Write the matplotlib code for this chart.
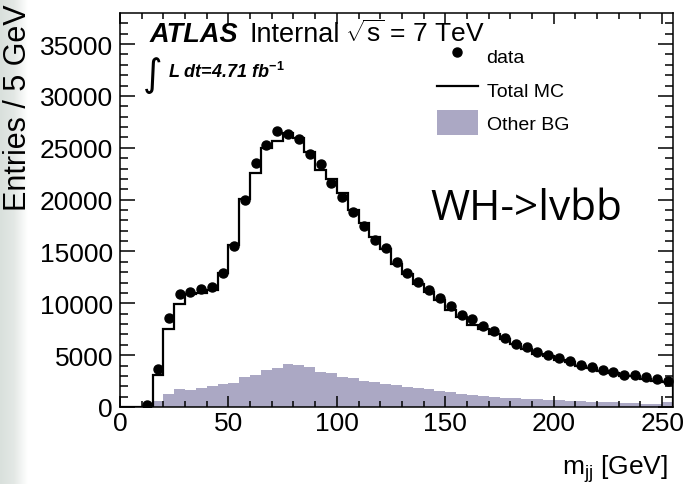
import numpy as np
import matplotlib
matplotlib.use("Agg")
from matplotlib import pyplot as plt
from matplotlib.lines import Line2D
from matplotlib.patches import Patch

plt.rcParams['font.family'] = ['Liberation Sans', 'DejaVu Sans']
plt.rcParams['mathtext.fontset'] = 'custom'
plt.rcParams['mathtext.rm'] = 'Liberation Sans'
plt.rcParams['mathtext.it'] = 'Liberation Sans:italic'
plt.rcParams['mathtext.bf'] = 'Liberation Sans:bold'

# 5 GeV bins, 10 -> 255 GeV
bin_edges = np.arange(10, 260, 5)
bin_centers = bin_edges[:-1] + 2.5

data_counts = [220, 3700, 8600, 10900, 11100, 11400, 11600, 12900, 15500, 20000,
               23500, 25300, 26600, 26300, 25850, 24400, 23450, 21650, 20250, 18800,
               17450, 16150, 15350, 14000, 12950, 12060, 11250, 10510, 9740, 8830,
               8440, 7800, 7320, 6670, 6090, 5770, 5350, 5060, 4740, 4420,
               4090, 3870, 3550, 3420, 3120, 3090, 2870, 2710, 2490]

total_mc = [0, 3100, 7550, 9950, 10900, 11000, 11300, 12950, 15600, 20100,
            22600, 25000, 25700, 26450, 25950, 24600, 22850, 21950, 20600, 18990,
            17700, 16400, 15280, 13830, 12800, 11900, 11090, 10280, 9310, 8670,
            7930, 7540, 7060, 6580, 6030, 5610, 5130, 4900, 4580, 4320,
            3940, 3740, 3510, 3290, 3030, 2970, 2710, 2540, 2390]

other_bg = [0, 580, 1260, 1740, 1680, 1800, 2000, 2250, 2350, 2870,
            3090, 3600, 3770, 4130, 4060, 3840, 3420, 3260, 2870, 2770,
            2480, 2390, 2220, 2080, 1950, 1800, 1700, 1500, 1400, 1250,
            1150, 1050, 1000, 900, 850, 780, 750, 690, 650, 560,
            540, 500, 480, 440, 420, 380, 330, 300, 450]

W, H = 690, 485
def fx(px):
    return px / W
def fy(py):
    return 1 - py / H

fig = plt.figure(figsize=(6.9, 4.85), dpi=100)

# faint slide background on the left edge
bg_ax = fig.add_axes([0, 0, 28 / W, 1], zorder=-5)
grad = np.linspace(0, 1, 50)[None, :]
bg_ax.imshow(np.repeat(grad, 10, axis=0), aspect='auto', cmap=matplotlib.colors.LinearSegmentedColormap.from_list('g', ['#d9e0dc', '#e3e8e5', '#ffffff']))
bg_ax.axis('off')

ax = fig.add_axes([120 / W, 77 / H, 553 / W, 394 / H])

ax.stairs(other_bg, bin_edges, fill=True, color='#aba8c4', linewidth=0)
ax.stairs(total_mc, bin_edges, color='black', linewidth=1.6)
ax.plot([0, 10], [0, 0], color='black', linewidth=1.6)
ax.plot(bin_centers, data_counts, 'o', color='black', markersize=6.5)

ax.set_xlim(0, 255)
ax.set_ylim(0, 38000)
ax.set_xticks(np.arange(0, 251, 50))
ax.set_xticks(np.arange(0, 255, 10), minor=True)
ax.set_yticks(np.arange(0, 35001, 5000))
ax.set_yticks(np.arange(0, 38000, 1000), minor=True)
ax.tick_params(which='both', direction='in', top=True, right=True, labelsize=19, width=1.1)
ax.tick_params(axis='x', which='major', length=8, pad=3)
ax.tick_params(axis='x', which='minor', length=4)
ax.tick_params(axis='y', which='major', length=11, pad=5)
ax.tick_params(axis='y', which='minor', length=5.5)
for sp in ax.spines.values():
    sp.set_linewidth(1.1)

fig.text(fx(18), fy(4), 'Entries / 5 GeV', rotation=90, ha='center', va='top', fontsize=22)
fig.text(fx(668), fy(475), r'm$_{\mathrm{jj}}$ [GeV]', ha='right', va='baseline', fontsize=19)

fig.text(fx(150), fy(42), 'ATLAS', fontsize=19.5, fontweight='bold', fontstyle='italic', va='baseline')
fig.text(fx(250), fy(42), 'Internal', fontsize=19.5, va='baseline')
fig.text(fx(345), fy(42), r'$\sqrt{\mathrm{s}}$ = 7 TeV', fontsize=19, va='baseline')
fig.text(fx(143), fy(86), '\u222b', fontsize=27, va='baseline', family=['DejaVu Sans'])
fig.text(fx(168), fy(78), r'L dt=4.71 fb$^{\mathbf{-1}}$', fontsize=13, fontweight='bold',
         fontstyle='italic', va='baseline')

fig.text(fx(430), fy(220), 'WH->lvbb', fontsize=30.5, va='baseline', family=['Open Sans'])

handles = [Line2D([], [], marker='o', linestyle='none', color='black', markersize=6.5),
           Line2D([], [], color='black', linewidth=1.6),
           Patch(facecolor='#aba8c4', edgecolor='none')]
ax.legend(handles, ['data', 'Total MC', 'Other BG'], loc='upper left', frameon=False,
          bbox_to_anchor=(fx(437), fy(44)), bbox_transform=fig.transFigure,
          fontsize=14, handlelength=2.1, handleheight=1.6, handletextpad=0.45,
          labelspacing=0.45, borderpad=0, borderaxespad=0)

fig.savefig('out.png', dpi=100)
